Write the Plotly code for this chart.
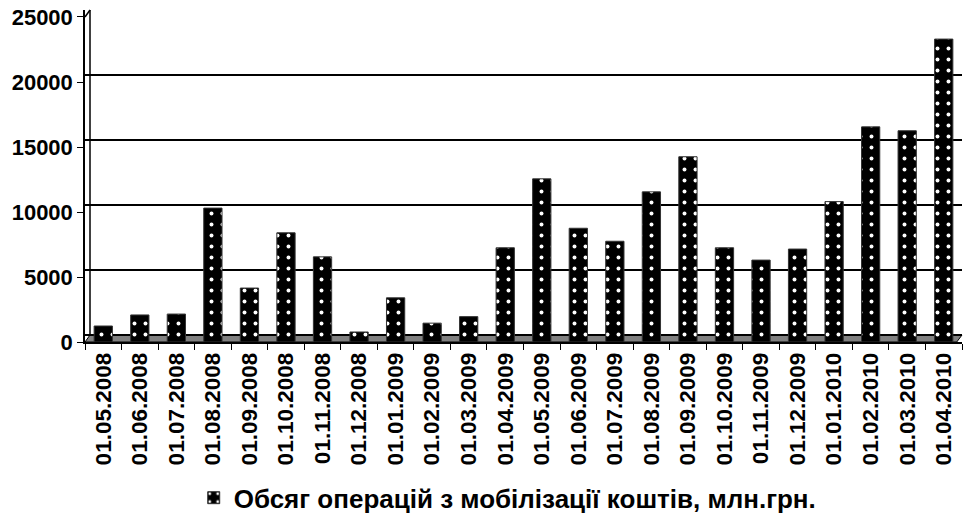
import plotly.graph_objects as go

dates = ['01.05.2008', '01.06.2008', '01.07.2008', '01.08.2008', '01.09.2008',
         '01.10.2008', '01.11.2008', '01.12.2008', '01.01.2009', '01.02.2009',
         '01.03.2009', '01.04.2009', '01.05.2009', '01.06.2009', '01.07.2009',
         '01.08.2009', '01.09.2009', '01.10.2009', '01.11.2009', '01.12.2009',
         '01.01.2010', '01.02.2010', '01.03.2010', '01.04.2010']
values = [1230, 2080, 2150, 10300, 4150, 8400, 6550, 770, 3400, 1450,
          1950, 7250, 12550, 8750, 7750, 11550, 14250, 7250, 6300, 7150,
          10800, 16550, 16250, 23300]
series_name = 'Обсяг операцій з мобілізації коштів, млн.грн.'
tick_vals = [0, 5000, 10000, 15000, 20000, 25000]
tick_text = ['0', '5000', '10000', '15000', '20000', '25000']

FONT = 'Liberation Sans, Arial, sans-serif'

fig = go.Figure()
fig.add_trace(go.Bar(
    x=dates, y=values, name=series_name, width=0.5,
    marker=dict(color='black', line=dict(color='#333333', width=1),
                pattern=dict(shape='.', fgcolor='white', bgcolor='black',
                             size=11, solidity=0.1, fillmode='replace')),
))
# invisible helper trace so the back-wall grid axis is rendered
fig.add_trace(go.Scatter(x=[dates[0]], y=[None], yaxis='y2', showlegend=False,
                         hoverinfo='skip', mode='lines'))

fig.update_layout(
    width=964, height=522,
    margin=dict(l=85, r=2, t=10, b=180, autoexpand=False),
    paper_bgcolor='white', plot_bgcolor='white',
    font=dict(family=FONT, color='black'),
    xaxis=dict(type='category', range=[-0.5, 23.5], showline=True, automargin=False,
               linecolor='black', linewidth=1.5, ticks='outside', ticklen=6,
               tickcolor='black', tickson='boundaries', tickangle=-90,
               tickfont=dict(size=22.5, weight='bold', family=FONT),
               showgrid=False, fixedrange=True),
    yaxis=dict(range=[0, 25538], tickvals=tick_vals, ticktext=tick_text,
               automargin=False,
               showgrid=False, zeroline=False, showline=True, linecolor='black',
               linewidth=1.5, ticks='outside', ticklen=6, tickcolor='black',
               tickfont=dict(size=22, weight='bold', family=FONT)),
    yaxis2=dict(overlaying='y', range=[-538, 25000], tickvals=tick_vals,
                automargin=False,
                showgrid=True, gridcolor='black', gridwidth=1.5,
                showticklabels=False, ticks='', zeroline=False, showline=False),
    legend=dict(orientation='h', x=0.482, xanchor='center', y=-0.54, yanchor='bottom',
                font=dict(size=26, weight='bold', family=FONT)),
    showlegend=True,
)

# floor of the 3D plot area and back wall edge (decoration)
fig.add_shape(type='path', xref='paper', yref='paper',
              path='M 0,0 L 0.994,0 L 1.0,0.021 L 0.0057,0.021 Z',
              fillcolor='#808080', line=dict(color='black', width=1), layer='below')
fig.add_shape(type='line', xref='paper', yref='paper', x0=0.0057, x1=0.0057,
              y0=0.021, y1=1.0, line=dict(color='black', width=1.5))
fig.add_shape(type='line', xref='paper', yref='paper', x0=0, x1=0.0057,
              y0=0.979, y1=1.0, line=dict(color='black', width=1.5))

fig.write_html('out.html', config={'displayModeBar': False},
               post_script="document.body.style.margin='0';document.body.style.overflow='hidden';")
